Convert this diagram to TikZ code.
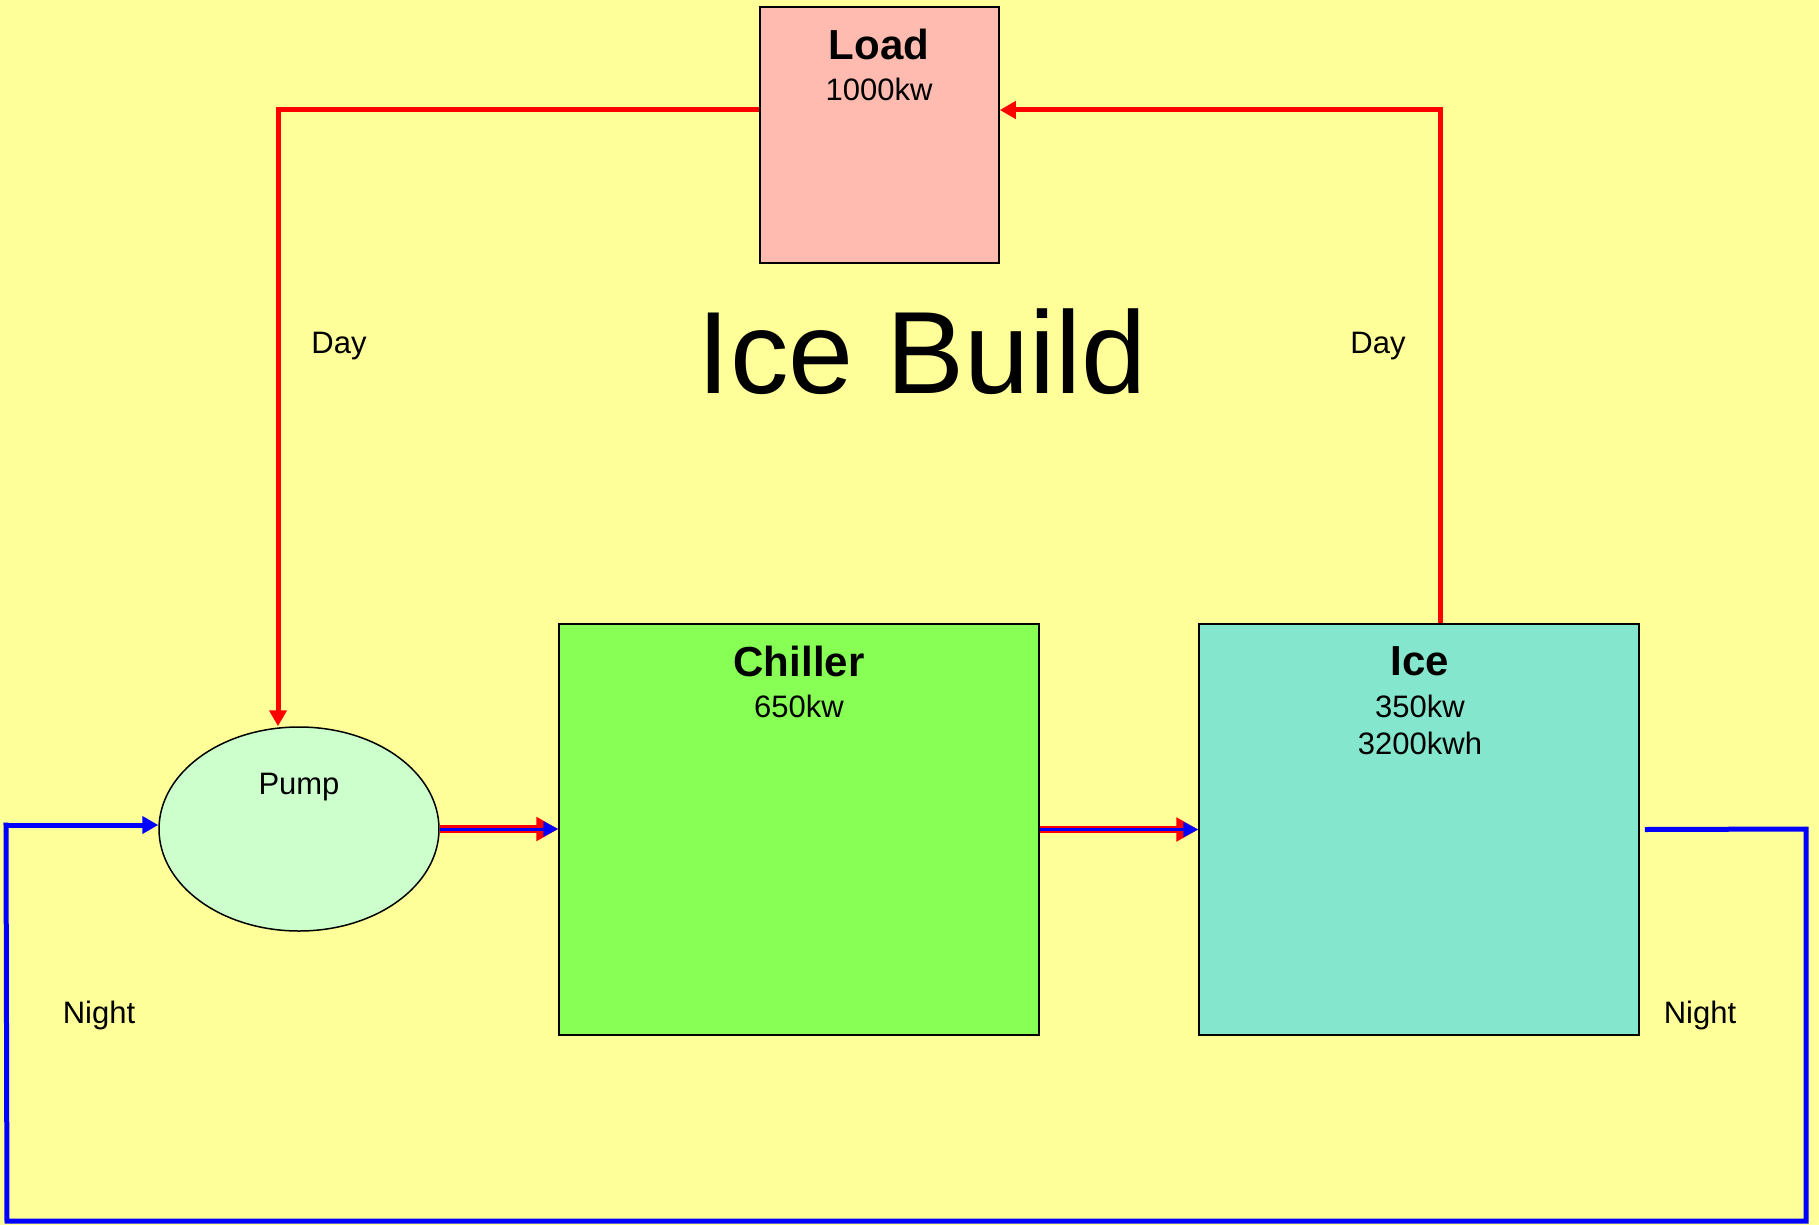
\documentclass[tikz,border=0pt]{standalone}
\usepackage{fontspec}
\setmainfont{Liberation Sans}
\usetikzlibrary{arrows.meta,shapes.geometric}
\definecolor{bgyellow}{HTML}{FFFF99}
\definecolor{loadpink}{HTML}{FFBBB0}
\definecolor{chillgreen}{HTML}{88FF55}
\definecolor{icegreen}{HTML}{84E6CC}
\definecolor{pumpgreen}{HTML}{CCFFCC}
\definecolor{pipeblue}{HTML}{0000FF}
\definecolor{pipered}{HTML}{FF0000}
\begin{document}
\begin{tikzpicture}[x=1pt,y=-1pt]

    \tikzset{
      unit/.style={
        draw,
        line width=1.5pt,
        inner sep=0pt,
      },
      head/.style={font=\fontsize{42}{48}\selectfont\bfseries},
      small/.style={font=\fontsize{31}{37}\selectfont},
      daypipe/.style={pipered, line width=5pt, -{Triangle[length=16pt,width=17pt]}},
      nightpipe/.style={pipeblue, line width=5pt},
    }
    \fill[bgyellow] (0,0) rectangle (1819,1225);
    \useasboundingbox (0,0) rectangle (1819,1225);

    % units
    \node[unit, fill=loadpink, minimum width=239pt, minimum height=256pt] (load) at (879.5,135) {};
    \node[unit, fill=chillgreen, minimum width=480pt, minimum height=411pt] (chiller) at (799,829.5) {};
    \node[unit, fill=icegreen, minimum width=440pt, minimum height=411pt] (ice) at (1419,829.5) {};
    \node[unit, ellipse, fill=pumpgreen, minimum width=280pt, minimum height=204pt] (pump) at (299,829) {};

    \node[head] (loadname) at (879,44) {Load};
    \node[small] (loadkw) at (879,89) {1000kw};
    \node[head] (chillname) at (799,661) {Chiller};
    \node[small] (chillkw) at (799,706) {650kw};
    \node[head] (icename) at (1420,661) {Ice};
    \node[small, align=center] (icekw) at (1420,725) {350kw\\3200kwh};
    \node[small] (pumpname) at (299,787) {Pump};
    \node[font=\fontsize{117}{126}\selectfont] (title) at (922,352) {Ice Build};

    \node[small] (dayleft) at (339,346) {Day};
    \node[small] (dayright) at (1378,346) {Day};
    \node[small] (nightleft) at (99,1015) {Night};
    \node[small] (nightright) at (1700,1015) {Night};

    % day loop
    \coordinate (dl) at (278,110);
    \coordinate (dr) at (1440,110);
    \draw[daypipe] (load.west |- dl) -- (dl) -- (dl |- pump.north);
    \draw[daypipe] (dr |- ice.north) -- (dr) -- (dr -| load.east);

    % night loop
    \coordinate (nr) at (1806,829);
    \coordinate (nb) at (1806,1221);
    \coordinate (nl) at (7,1221);
    \coordinate (nt) at (6,825);
    \draw[nightpipe, line join=miter] ([xshift=5pt]ice.east) -- (nr) -- (nb) -- (nl) -- (nt) -- ++(2.5,0);
    \draw[nightpipe, -{Triangle[length=16pt,width=17pt]}] (nt) -- (nt -| pump.west);

    % both loops
    \draw[pipered, line width=7.5pt, -{Triangle[length=22pt,width=23pt]}] (pump.east) -- (chiller.west |- pump.east);
    \draw[pipeblue, line width=3pt, -{Triangle[length=15pt,width=15pt]}] (pump.east) -- (chiller.west |- pump.east);
    \draw[pipered, line width=7.5pt, -{Triangle[length=22pt,width=23pt]}] (chiller.east) -- (ice.west);
    \draw[pipeblue, line width=3pt, -{Triangle[length=15pt,width=15pt]}] (chiller.east) -- (ice.west);

\end{tikzpicture}
\end{document}
